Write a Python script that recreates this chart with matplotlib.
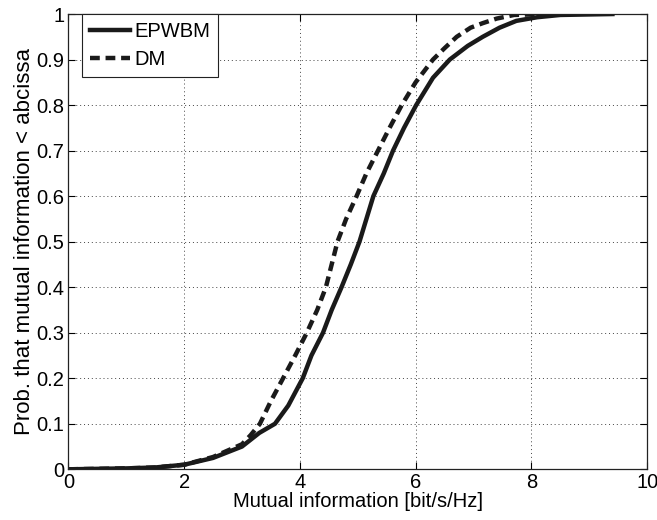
import matplotlib
matplotlib.use("Agg")
import matplotlib.pyplot as plt

# EPWBM (solid) CDF points
epwbm_x = [0.0, 1.0, 1.5, 2.0, 2.5, 3.0, 3.3, 3.57, 3.8, 4.05, 4.2, 4.40, 4.55, 4.72, 4.88, 5.03, 5.15, 5.27, 5.45, 5.61, 5.8, 6.01, 6.3, 6.59, 6.9, 7.16, 7.45, 7.74, 8.1, 8.5, 9.4]
epwbm_y = [0.0, 0.002, 0.004, 0.01, 0.025, 0.05, 0.08, 0.10, 0.14, 0.20, 0.25, 0.30, 0.35, 0.40, 0.45, 0.50, 0.55, 0.60, 0.65, 0.70, 0.75, 0.80, 0.86, 0.90, 0.93, 0.95, 0.97, 0.985, 0.993, 0.998, 1.0]

# DM (dashed) CDF points
dm_x = [0.0, 1.0, 1.5, 2.0, 2.5, 3.0, 3.15, 3.31, 3.5, 3.71, 3.92, 4.12, 4.3, 4.45, 4.55, 4.65, 4.8, 4.98, 5.15, 5.35, 5.55, 5.76, 6.0, 6.30, 6.5, 6.71, 6.95, 7.16, 7.4, 7.7, 8.2]
dm_y = [0.0, 0.002, 0.004, 0.01, 0.027, 0.055, 0.075, 0.10, 0.15, 0.20, 0.25, 0.30, 0.35, 0.40, 0.45, 0.50, 0.55, 0.60, 0.65, 0.70, 0.75, 0.80, 0.85, 0.90, 0.925, 0.95, 0.97, 0.98, 0.99, 0.998, 1.0]

labels = ["EPWBM", "DM"]
xticks = [0, 2, 4, 6, 8, 10]
yticks = [0, 0.1, 0.2, 0.3, 0.4, 0.5, 0.6, 0.7, 0.8, 0.9, 1]
ytick_labels = ["0", "0.1", "0.2", "0.3", "0.4", "0.5", "0.6", "0.7", "0.8", "0.9", "1"]

plt.rcParams['font.family'] = ['Liberation Sans', 'DejaVu Sans']

fig = plt.figure(figsize=(6.57, 5.2), dpi=100)
ax = fig.add_axes([0.104, 0.0975, 0.881, 0.8755])

ax.plot(epwbm_x, epwbm_y, color='#1a1a1a', lw=3.2, ls='-', label=labels[0])
ax.plot(dm_x, dm_y, color='#1a1a1a', lw=3.2, ls=(0, (2.2, 1.3)), label=labels[1])

ax.set_xlim(0, 10)
ax.set_ylim(0, 1)
ax.set_xticks(xticks)
ax.set_xticklabels([str(t) for t in xticks])
ax.set_yticks(yticks)
ax.set_yticklabels(ytick_labels)
ax.tick_params(direction='in', top=True, right=True, labelsize=14.5, length=5, width=0.8, pad=3)
ax.grid(True, ls=(0, (1, 3)), color='#444444', lw=0.7)
for s in ax.spines.values():
    s.set_linewidth(0.9)
    s.set_color('#222222')

ax.set_xlabel("Mutual information [bit/s/Hz]", fontsize=14.5, labelpad=0)
ax.set_ylabel("Prob. that mutual information < abcissa", fontsize=16, labelpad=1)

leg = ax.legend(loc='upper left', bbox_to_anchor=(0.023, 1.0), fontsize=14.5,
                fancybox=False, framealpha=1, edgecolor='#222222',
                handlelength=2.0, borderpad=0.4, labelspacing=0.45,
                handletextpad=0.2, borderaxespad=0.0)
leg.get_frame().set_linewidth(0.8)

fig.savefig("out.png", dpi=100)
